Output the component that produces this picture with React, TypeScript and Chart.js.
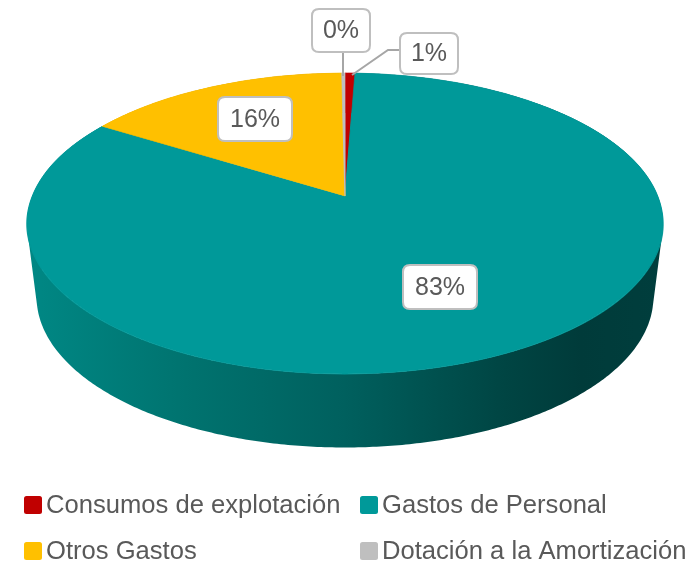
import React, { useEffect, useRef } from "react";
import { Chart, registerables } from "chart.js";

Chart.register(...registerables);

// ---- data ----
const categories = [
  "Consumos de explotación",
  "Gastos de Personal",
  "Otros Gastos",
  "Dotación a la Amortización",
];
const shares = [0.6, 83.2, 16.0, 0.2];
const topColors = ["#C00000", "#009999", "#FFC000", "#BFBFBF"];
const sideStops: [number, string][][] = [
  [[0, "#900000"], [1, "#500000"]],
  [
    [0, "#008885"],
    [0.25, "#00736F"],
    [0.5, "#00605E"],
    [0.75, "#004543"],
    [0.87, "#003B3A"],
    [1, "#003E3D"],
  ],
  [[0, "#C89600"], [1, "#7A5C00"]],
  [[0, "#9A9A9A"], [1, "#6A6A6A"]],
];

// ---- layout (perspective projection of the pie disc) ----
const W = 697;
const H = 561;
const CX = 345; // horizontal centre
const PA = 196; // screen y of the pie centre
const PB = 109.66; // vertical scale
const PC = -0.1827; // perspective factor
const PK = 312.6; // horizontal scale
const DEPTH = 73.5; // thickness of the pie
const BOTTOM_SHRINK = 0.97;
const FONT = "'Liberation Sans', Arial, sans-serif";
const TEXT = "#595959";

const labelBoxes = [
  { cx: 429, cy: 53.5, w: 58, h: 41 },
  { cx: 440, cy: 287, w: 74, h: 44 },
  { cx: 255, cy: 119, w: 74, h: 44 },
  { cx: 341, cy: 30.5, w: 58, h: 43 },
];
const leaders: ([number, number][] | null)[] = [
  [[400, 50], [388, 50], [352, 75]],
  null,
  null,
  [[343, 52], [343, 76]],
];
const legendPos = [
  { x: 24, y: 513 },
  { x: 360, y: 513 },
  { x: 24, y: 559 },
  { x: 360, y: 559 },
];

const projY = (v: number) => (PA + PB * v) / (1 + PC * v);
const projX = (u: number, v: number) => CX + (PK * u) / (1 + PC * v);
const invY = (y: number) => (y - PA) / (PB - PC * y);

function roundRect(ctx: CanvasRenderingContext2D, x: number, y: number, w: number, h: number, r: number) {
  ctx.beginPath();
  ctx.moveTo(x + r, y);
  ctx.lineTo(x + w - r, y);
  ctx.quadraticCurveTo(x + w, y, x + w, y + r);
  ctx.lineTo(x + w, y + h - r);
  ctx.quadraticCurveTo(x + w, y + h, x + w - r, y + h);
  ctx.lineTo(x + r, y + h);
  ctx.quadraticCurveTo(x, y + h, x, y + h - r);
  ctx.lineTo(x, y + r);
  ctx.quadraticCurveTo(x, y, x + r, y);
  ctx.closePath();
}

const pie3d = {
  id: "pie3d",
  beforeDatasetsDraw(chart: any) {
    const meta = chart.getDatasetMeta(0);
    const ctx: CanvasRenderingContext2D = chart.ctx;
    const els: any[] = meta.data;

    // side walls (drawn behind the top face), as a union of small quads
    els.forEach((el: any, i: number) => {
      const s = el.startAngle;
      const e = el.endAngle;
      const n = Math.max(2, Math.ceil((e - s) / 0.01));
      const top: [number, number][] = [];
      const bot: [number, number][] = [];
      for (let j = 0; j <= n; j++) {
        const a = s + ((e - s) * j) / n;
        const u = Math.cos(a);
        const v = Math.sin(a);
        const X = projX(u, v);
        const Y = projY(v);
        top.push([X, Y]);
        bot.push([CX + (X - CX) * BOTTOM_SHRINK, Y + DEPTH]);
      }
      const g = ctx.createLinearGradient(CX - PK * 1.02, 0, CX + PK * 1.02, 0);
      sideStops[i].forEach(([p, c]) => g.addColorStop(p, c));
      ctx.beginPath();
      for (let j = 0; j < n; j++) {
        let q: [number, number][] = [top[j], top[j + 1], bot[j + 1], bot[j]];
        let area = 0;
        for (let m = 0; m < 4; m++) {
          const [ax, ay] = q[m];
          const [bx, by] = q[(m + 1) % 4];
          area += ax * by - bx * ay;
        }
        if (area < 0) q = q.slice().reverse();
        ctx.moveTo(q[0][0], q[0][1]);
        for (let m = 1; m < 4; m++) ctx.lineTo(q[m][0], q[m][1]);
        ctx.closePath();
      }
      ctx.fillStyle = g;
      ctx.fill("nonzero");
    });

    // top face: Chart.js arcs drawn row by row through a perspective mapping
    const a0 = els[0];
    const x0 = a0.x;
    const y0 = a0.y;
    const r0 = a0.outerRadius;
    const yStart = Math.floor(projY(-1)) - 1;
    const yEnd = Math.ceil(projY(1)) + 1;
    for (let y = yStart; y < yEnd; y++) {
      const v0 = invY(y);
      const v1 = invY(y + 1);
      const vm = (v0 + v1) / 2;
      const kx = PK / (1 + PC * vm) / r0;
      const ky = 1 / ((v1 - v0) * r0);
      ctx.save();
      ctx.beginPath();
      ctx.rect(0, y, W, 1);
      ctx.clip();
      ctx.translate(CX, y);
      ctx.scale(kx, ky);
      ctx.translate(-x0, -(y0 + v0 * r0));
      els.forEach((el: any) => el.draw(ctx));
      ctx.restore();
    }
    return false;
  },
  afterDraw(chart: any) {
    const ctx: CanvasRenderingContext2D = chart.ctx;
    const data: number[] = chart.data.datasets[0].data;
    const total = data.reduce((a, b) => a + b, 0);
    ctx.save();
    // leader lines
    ctx.strokeStyle = "#A6A6A6";
    ctx.lineWidth = 2;
    leaders.forEach((pts) => {
      if (!pts) return;
      ctx.beginPath();
      pts.forEach(([x, y], j) => (j === 0 ? ctx.moveTo(x, y) : ctx.lineTo(x, y)));
      ctx.stroke();
    });
    // labels
    ctx.font = `25px ${FONT}`;
    ctx.textAlign = "center";
    ctx.textBaseline = "middle";
    data.forEach((v, i) => {
      const b = labelBoxes[i];
      roundRect(ctx, b.cx - b.w / 2, b.cy - b.h / 2, b.w, b.h, 7);
      ctx.fillStyle = "#FFFFFF";
      ctx.fill();
      ctx.strokeStyle = "#BFBFBF";
      ctx.lineWidth = 2;
      ctx.stroke();
      ctx.fillStyle = TEXT;
      ctx.fillText(`${Math.round((v / total) * 100)}%`, b.cx, b.cy + 1);
    });
    // legend
    ctx.font = `25.6px ${FONT}`;
    ctx.textAlign = "left";
    ctx.textBaseline = "alphabetic";
    const labels: string[] = chart.data.labels;
    const colors: string[] = chart.data.datasets[0].backgroundColor;
    labels.forEach((lab, i) => {
      const p = legendPos[i];
      roundRect(ctx, p.x, p.y - 17, 18, 18, 2.5);
      ctx.fillStyle = colors[i];
      ctx.fill();
      ctx.fillStyle = TEXT;
      ctx.fillText(lab, p.x + 22, p.y);
    });
    ctx.restore();
  },
};

export default function App() {
  const ref = useRef<HTMLCanvasElement | null>(null);
  useEffect(() => {
    if (!ref.current) return;
    const chart = new Chart(ref.current, {
      type: "pie",
      data: {
        labels: categories,
        datasets: [
          {
            data: shares,
            backgroundColor: topColors,
            borderColor: topColors,
            borderWidth: 1,
            clip: false,
          } as any,
        ],
      },
      options: {
        responsive: false,
        maintainAspectRatio: false,
        animation: false,
        events: [],
        layout: { padding: 0 },
        plugins: {
          legend: { display: false },
          tooltip: { enabled: false },
          title: { display: false },
        },
      },
      plugins: [pie3d],
    });
    return () => chart.destroy();
  }, []);
  return (
    <div style={{ position: "absolute", left: 0, top: 0, width: W, height: H, background: "#FFFFFF" }}>
      <canvas ref={ref} width={W} height={H} style={{ display: "block", width: W, height: H }} />
    </div>
  );
}
